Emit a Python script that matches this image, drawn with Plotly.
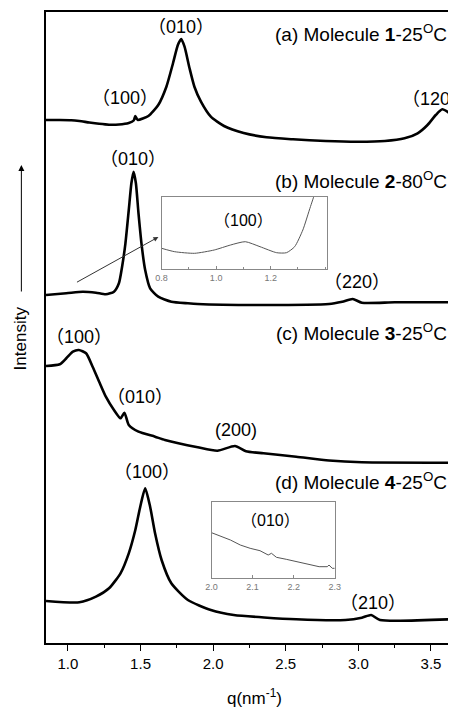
import plotly.graph_objects as go

# ---- main curves: q (nm^-1) and intensity (arbitrary, offset-stacked) ----
q_a = [0.849, 0.944, 1.023, 1.079, 1.147, 1.215, 1.283, 1.351, 1.419, 1.453, 1.464, 1.475, 1.482, 1.554, 1.622,
       1.678, 1.724, 1.757, 1.780, 1.803, 1.837, 1.871, 1.916, 1.984, 2.075, 2.210, 2.368, 2.550, 2.775, 2.999,
       3.182, 3.318, 3.408, 3.476, 3.533, 3.578, 3.631]
i_a = [523, 523, 522.8, 522, 520.5, 519.2, 518.3, 518.5, 520, 522.5, 527, 524, 523, 527, 538,
       556.3, 580, 598, 604, 596.3, 575, 556.3, 541.3, 526.3, 517, 510, 505.7, 503.7, 502, 501.3,
       502, 504.7, 509.7, 518, 528, 533.7, 529.5]

q_b = [0.849, 0.989, 1.102, 1.193, 1.261, 1.317, 1.351, 1.373, 1.396, 1.419, 1.437, 1.452, 1.468, 1.486, 1.509,
       1.532, 1.566, 1.622, 1.712, 1.826, 1.893, 2.346, 2.798, 2.889, 2.961, 3.024, 3.250, 3.631]
i_b = [348, 349.7, 351.3, 350.3, 348.7, 351.3, 359.7, 376.3, 399.7, 433, 459.7, 471.3, 459.7, 429.7, 396.3,
       373, 354.7, 346.3, 341.3, 339.7, 339, 338, 339, 341.3, 344, 340.3, 340.7, 340.7]

q_c = [0.849, 0.944, 0.989, 1.034, 1.075, 1.125, 1.170, 1.215, 1.261, 1.317, 1.362, 1.389, 1.419, 1.486, 1.600,
       1.668, 1.894, 2.029, 2.150, 2.226, 2.346, 2.572, 2.798, 3.024, 3.631]
i_c = [277, 278.7, 284.7, 291.3, 293, 289.7, 276.3, 261.3, 246.3, 233, 224.7, 230.3, 218, 211.3, 206.3,
       203, 195.7, 192.3, 197, 191.8, 189.7, 186.3, 182.5, 180.7, 180.3]

q_d = [0.849, 1.079, 1.193, 1.283, 1.362, 1.419, 1.464, 1.498, 1.532, 1.566, 1.600, 1.645, 1.712, 1.826, 1.984,
       2.142, 2.572, 2.911, 3.024, 3.088, 3.149, 3.631]
i_d = [42, 40.7, 46.3, 54.7, 69.7, 89.7, 113, 136.3, 154.7, 136.3, 109.7, 83, 59.7, 43, 33,
       28, 23.7, 23, 25.3, 28, 23, 23.7]

# ---- inset (b): zoom on (100) of molecule 2 ----
q_ib = [0.800, 0.848, 0.921, 0.993, 1.053, 1.107, 1.161, 1.222, 1.258, 1.288, 1.318, 1.342, 1.360, 1.366]
i_ib = [20.7, 17.3, 15.7, 19, 24, 27.3, 22.3, 16.3, 16.3, 22.3, 39, 59, 74, 79]

# ---- inset (d): zoom on (010) of molecule 4 ----
q_id = [2.000, 2.022, 2.046, 2.070, 2.094, 2.118, 2.138, 2.146, 2.158, 2.182, 2.206, 2.238, 2.262, 2.282,
        2.286, 2.294, 2.300]
i_id = [45.6, 42.3, 38.3, 33.3, 30, 27.6, 23.3, 25, 21, 19, 16.6, 14, 11.6, 11.6, 13.3, 10, 10]

# ---- tick labels ----
main_ticks = [1.0, 1.5, 2.0, 2.5, 3.0, 3.5]
inset_b_ticks = [0.8, 1.0, 1.2]
inset_d_ticks = [2.0, 2.1, 2.2, 2.3]

FONT = "Arial, Liberation Sans, Noto Sans CJK SC, sans-serif"

fig = go.Figure()
for q, i in [(q_a, i_a), (q_b, i_b), (q_c, i_c), (q_d, i_d)]:
    fig.add_trace(go.Scatter(x=q, y=i, mode="lines",
                             line=dict(color="black", width=2.6, shape="spline", smoothing=0.6),
                             showlegend=False, hoverinfo="skip"))
fig.add_trace(go.Scatter(x=q_ib, y=i_ib, mode="lines", xaxis="x2", yaxis="y2",
                         line=dict(color="#555", width=1, shape="spline", smoothing=0.6),
                         showlegend=False, hoverinfo="skip"))
fig.add_trace(go.Scatter(x=q_id, y=i_id, mode="lines", xaxis="x3", yaxis="y3",
                         line=dict(color="#555", width=1), showlegend=False, hoverinfo="skip"))

# The page body has an 8px default margin, so the figure is 8px smaller
# and all screen-pixel positions below are shifted accordingly.
OFF = 8
SW, SH = 456, 707            # screen size
L, R, T, B = 46, 0, 12, 64   # plot area edges in screen pixels (left, right gap, top, bottom gap)

def px(xp):
    return (xp - L) / (SW - L - R)

def py(yp):
    return (SH - B - yp) / (SH - B - T)

inset_axis = dict(showline=True, linecolor="#888", linewidth=1, mirror=True, showgrid=False,
                  zeroline=False)

fig.update_layout(
    width=SW - OFF, height=SH - OFF,
    margin=dict(l=L - OFF, r=R, t=T - OFF, b=B, pad=0),
    paper_bgcolor="white", plot_bgcolor="white",
    font=dict(family=FONT, color="black"),
    xaxis=dict(range=[0.849, 3.631], domain=[0, 1], showline=True, linecolor="black", linewidth=1.6,
               mirror=True, ticks="outside", ticklen=6, tickwidth=1.2, tickcolor="black",
               tickvals=main_ticks, ticktext=[f"{v:.1f}" for v in main_ticks],
               minor=dict(ticks="outside", ticklen=3, tickwidth=1, tickcolor="black", dtick=0.25,
                          tick0=1.0, showgrid=False),
               tickfont=dict(size=15, family=FONT), showgrid=False, zeroline=False),
    yaxis=dict(range=[0, 631], showline=True, linecolor="black", linewidth=1.6, showticklabels=False,
               ticks="", showgrid=False, zeroline=False),
    xaxis2=dict(inset_axis, domain=[px(163.3), px(331)], anchor="y2", range=[0.8, 1.406],
                tickvals=inset_b_ticks, ticktext=["0.8", "1.0", "1.2"], ticks="inside", ticklen=3,
                tickcolor="#888", tickfont=dict(size=9, color="#777", family=FONT),
                minor=dict(ticks="inside", ticklen=2, dtick=0.1, tick0=0.8, tickcolor="#888")),
    yaxis2=dict(inset_axis, domain=[py(269), py(196.7)], anchor="x2", range=[0, 72.3],
                showticklabels=False, ticks=""),
    xaxis3=dict(inset_axis, domain=[px(214), px(339)], anchor="y3", range=[2.0, 2.3],
                tickvals=inset_d_ticks, ticktext=["2.0", "2.1", "2.2", "2.3"], ticks="inside", ticklen=3,
                tickcolor="#888", tickfont=dict(size=9, color="#777", family=FONT)),
    yaxis3=dict(inset_axis, domain=[py(578.3), py(501.7)], anchor="x3", range=[0, 76.6],
                showticklabels=False, ticks=""),
)

ann = []
def lab(x, y, text, xref="x", yref="y", size=18, **kw):
    d = dict(x=x, y=y, xref=xref, yref=yref, text=text, showarrow=False,
             font=dict(size=size, family=FONT, color="black"), xanchor="center", yanchor="middle")
    d.update(kw)
    ann.append(d)

# peak labels
lab(1.778, 616, "（010）")
lab(1.391, 545, "（100）")
lab(3.53, 543.7, "（120）")
lab(1.446, 484, "（010）")
lab(2.99, 361.3, "（220）")
lab(1.079, 306.3, "（100）")
lab(1.498, 246.3, "（010）")
lab(2.160, 213, "(200)")
lab(1.543, 170.7, "（100）")
lab(3.103, 40.3, "（210）")
lab(1.101, 49, "（100）", xref="x2", yref="y2", size=16)
lab(2.144, 57.6, "（010）", xref="x3", yref="y3", size=16)

# sample labels
for yp, txt in [(33, "(a) Molecule <b>1</b>-25<sup>O</sup>C"),
                (180, "(b) Molecule <b>2</b>-80<sup>O</sup>C"),
                (331.7, "(c) Molecule <b>3</b>-25<sup>O</sup>C"),
                (480.7, "(d) Molecule <b>4</b>-25<sup>O</sup>C")]:
    lab(px(455), py(yp), txt, xref="paper", yref="paper", xanchor="right", size=19)

# axis titles
lab(px(258), py(697), "q(nm<sup>-1</sup>)", xref="paper", yref="paper", size=17)
lab(px(20), py(338), "Intensity", xref="paper", yref="paper", size=17, textangle=-90)

# arrow pointing into inset (b)
ann.append(dict(x=1.623, y=406, ax=1.052, ay=360, xref="x", yref="y", axref="x", ayref="y",
                text="", showarrow=True, arrowhead=2, arrowsize=1, arrowwidth=1, arrowcolor="#333"))
# intensity arrow
ann.append(dict(x=px(21), y=py(165), xref="paper", yref="paper", ax=0, ay=128,
                text="", showarrow=True, arrowhead=2, arrowsize=1.2, arrowwidth=1, arrowcolor="black"))

fig.update_layout(annotations=ann)
fig.write_html("out.html")
